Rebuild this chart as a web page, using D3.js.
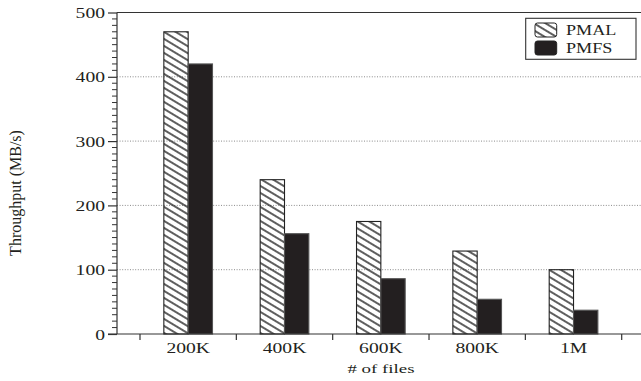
<!DOCTYPE html>
<html>
<head>
<meta charset="utf-8">
<script src="https://cdn.jsdelivr.net/npm/d3@7"></script>
<style>
  html, body { margin: 0; padding: 0; background: #fff; }
  svg { display: block; }
  text { font-family: "Liberation Serif", "Times New Roman", serif; fill: #231f20; }
</style>
</head>
<body>
<svg id="chart" width="641" height="381"></svg>
<script>
// Throughput per file-count, two file systems
const categories = ["200K", "400K", "600K", "800K", "1M"];
const seriesNames = ["PMAL", "PMFS"];
const pmal = [470, 240, 175, 129, 100];
const pmfs = [420, 156, 86, 54, 37];
const yTicks = [0, 100, 200, 300, 400, 500];
const gridValues = [100, 200, 300, 400];

const svg = d3.select("#chart");
const plotL = 117, plotR = 645, plotT = 12.5, plotB = 334;
const ink = "#231f20";

// hatch pattern: thin "\" diagonals
const defs = svg.append("defs");
defs.append("pattern")
  .attr("id", "hatch")
  .attr("patternUnits", "userSpaceOnUse")
  .attr("width", 6).attr("height", 6)
  .attr("patternTransform", "rotate(31)")
  .append("line")
  .attr("x1", 0).attr("y1", 3).attr("x2", 6).attr("y2", 3)
  .attr("stroke", "#111").attr("stroke-width", 1.35);

const y = d3.scaleLinear().domain([0, 500]).range([plotB, plotT]);
const x = d3.scaleBand().domain(categories).range([140, 621.7]).paddingInner(0).paddingOuter(0);
const x1 = d3.scaleBand().domain(seriesNames).range([0, x.bandwidth()]).paddingInner(0).paddingOuter(0.98);

// horizontally stretched text helper
function sText(g, tx, ty, str, size, sx, anchor) {
  return g.append("text")
    .attr("transform", `translate(${tx},${ty}) scale(${sx},1)`)
    .attr("text-anchor", anchor)
    .style("font-size", size + "px")
    .text(str);
}

// dotted grid lines
svg.append("g").selectAll("line").data(gridValues).join("line")
  .attr("x1", plotL).attr("x2", plotR)
  .attr("y1", d => y(d)).attr("y2", d => y(d))
  .attr("stroke", "#8a8a8a").attr("stroke-width", 1)
  .attr("stroke-dasharray", "1,1.6");

// bars
const rows = categories.map((c, i) => [
  { key: "PMAL", v: pmal[i] },
  { key: "PMFS", v: pmfs[i] }
]);
const groups = svg.append("g").selectAll("g").data(categories).join("g")
  .attr("transform", d => `translate(${x(d)},0)`);
groups.selectAll("rect").data((d, i) => rows[i]).join("rect")
  .attr("x", d => x1(d.key))
  .attr("y", d => y(d.v))
  .attr("width", x1.bandwidth())
  .attr("height", d => y(0) - y(d.v))
  .attr("fill", d => d.key === "PMAL" ? "url(#hatch)" : ink)
  .attr("stroke", d => d.key === "PMAL" ? "#222" : "#555")
  .attr("stroke-width", 1.1);

// frame: left axis, top line, bottom axis
const frame = svg.append("g").attr("stroke", "#333").attr("stroke-width", 1.2);
frame.append("line").attr("x1", plotL).attr("x2", plotL).attr("y1", plotT).attr("y2", plotB);
frame.append("line").attr("x1", plotL).attr("x2", plotR).attr("y1", plotT).attr("y2", plotT);
frame.append("line").attr("x1", plotL - 9).attr("x2", plotR).attr("y1", plotB).attr("y2", plotB);

// y axis: major ticks and labels via d3 axis
const yAxis = d3.axisLeft(y).tickValues(yTicks).tickSize(9).tickPadding(3).tickFormat(d3.format("d"));
const ya = svg.append("g").attr("transform", `translate(${plotL},0)`).call(yAxis);
ya.select(".domain").remove();
ya.attr("font-family", null).attr("font-size", null);
ya.selectAll(".tick line").attr("stroke", "#333").attr("stroke-width", 1.2);
ya.selectAll(".tick text")
  .attr("x", null).attr("dy", null)
  .attr("transform", "translate(-12,5) scale(1.4,1)")
  .style("font-size", "14px")
  .attr("fill", ink);

// y minor ticks every 10
const minor = d3.range(0, 501, 10).filter(v => v % 100 !== 0);
svg.append("g").selectAll("line").data(minor).join("line")
  .attr("x1", plotL - 5).attr("x2", plotL)
  .attr("y1", d => y(d)).attr("y2", d => y(d))
  .attr("stroke", "#333").attr("stroke-width", 1);

// x ticks at band boundaries
const bounds = categories.map(c => x(c)).concat([x(categories[categories.length - 1]) + x.bandwidth()]);
svg.append("g").selectAll("line").data(bounds).join("line")
  .attr("x1", d => d).attr("x2", d => d)
  .attr("y1", plotB).attr("y2", plotB + 6)
  .attr("stroke", "#333").attr("stroke-width", 1.2);

// x labels
const xl = svg.append("g");
categories.forEach(c => sText(xl, x(c) + x.bandwidth() / 2, 353, c, 14, 1.4, "middle"));

// axis titles
sText(svg, 381, 373, "# of files", 13.5, 1.4, "middle");
svg.append("text")
  .attr("transform", "translate(21,193) rotate(-90)")
  .attr("text-anchor", "middle")
  .style("font-size", "16px")
  .text("Throughput (MB/s)");

// legend
const lg = svg.append("g");
lg.append("rect").attr("x", 525.7).attr("y", 18.3).attr("width", 110.3).attr("height", 41)
  .attr("fill", "#fff").attr("stroke", "#333").attr("stroke-width", 1.1);
const items = [
  { name: seriesNames[0], fill: "url(#hatch)" },
  { name: seriesNames[1], fill: ink }
];
items.forEach((it, i) => {
  lg.append("rect").attr("x", 535).attr("y", 23 + i * 18).attr("width", 21.7).attr("height", 14)
    .attr("rx", 2.5).attr("fill", it.fill).attr("stroke", "#222").attr("stroke-width", 1);
  sText(lg, 566, 35 + i * 18, it.name, 14.5, 1.25, "start");
});
</script>
</body>
</html>
